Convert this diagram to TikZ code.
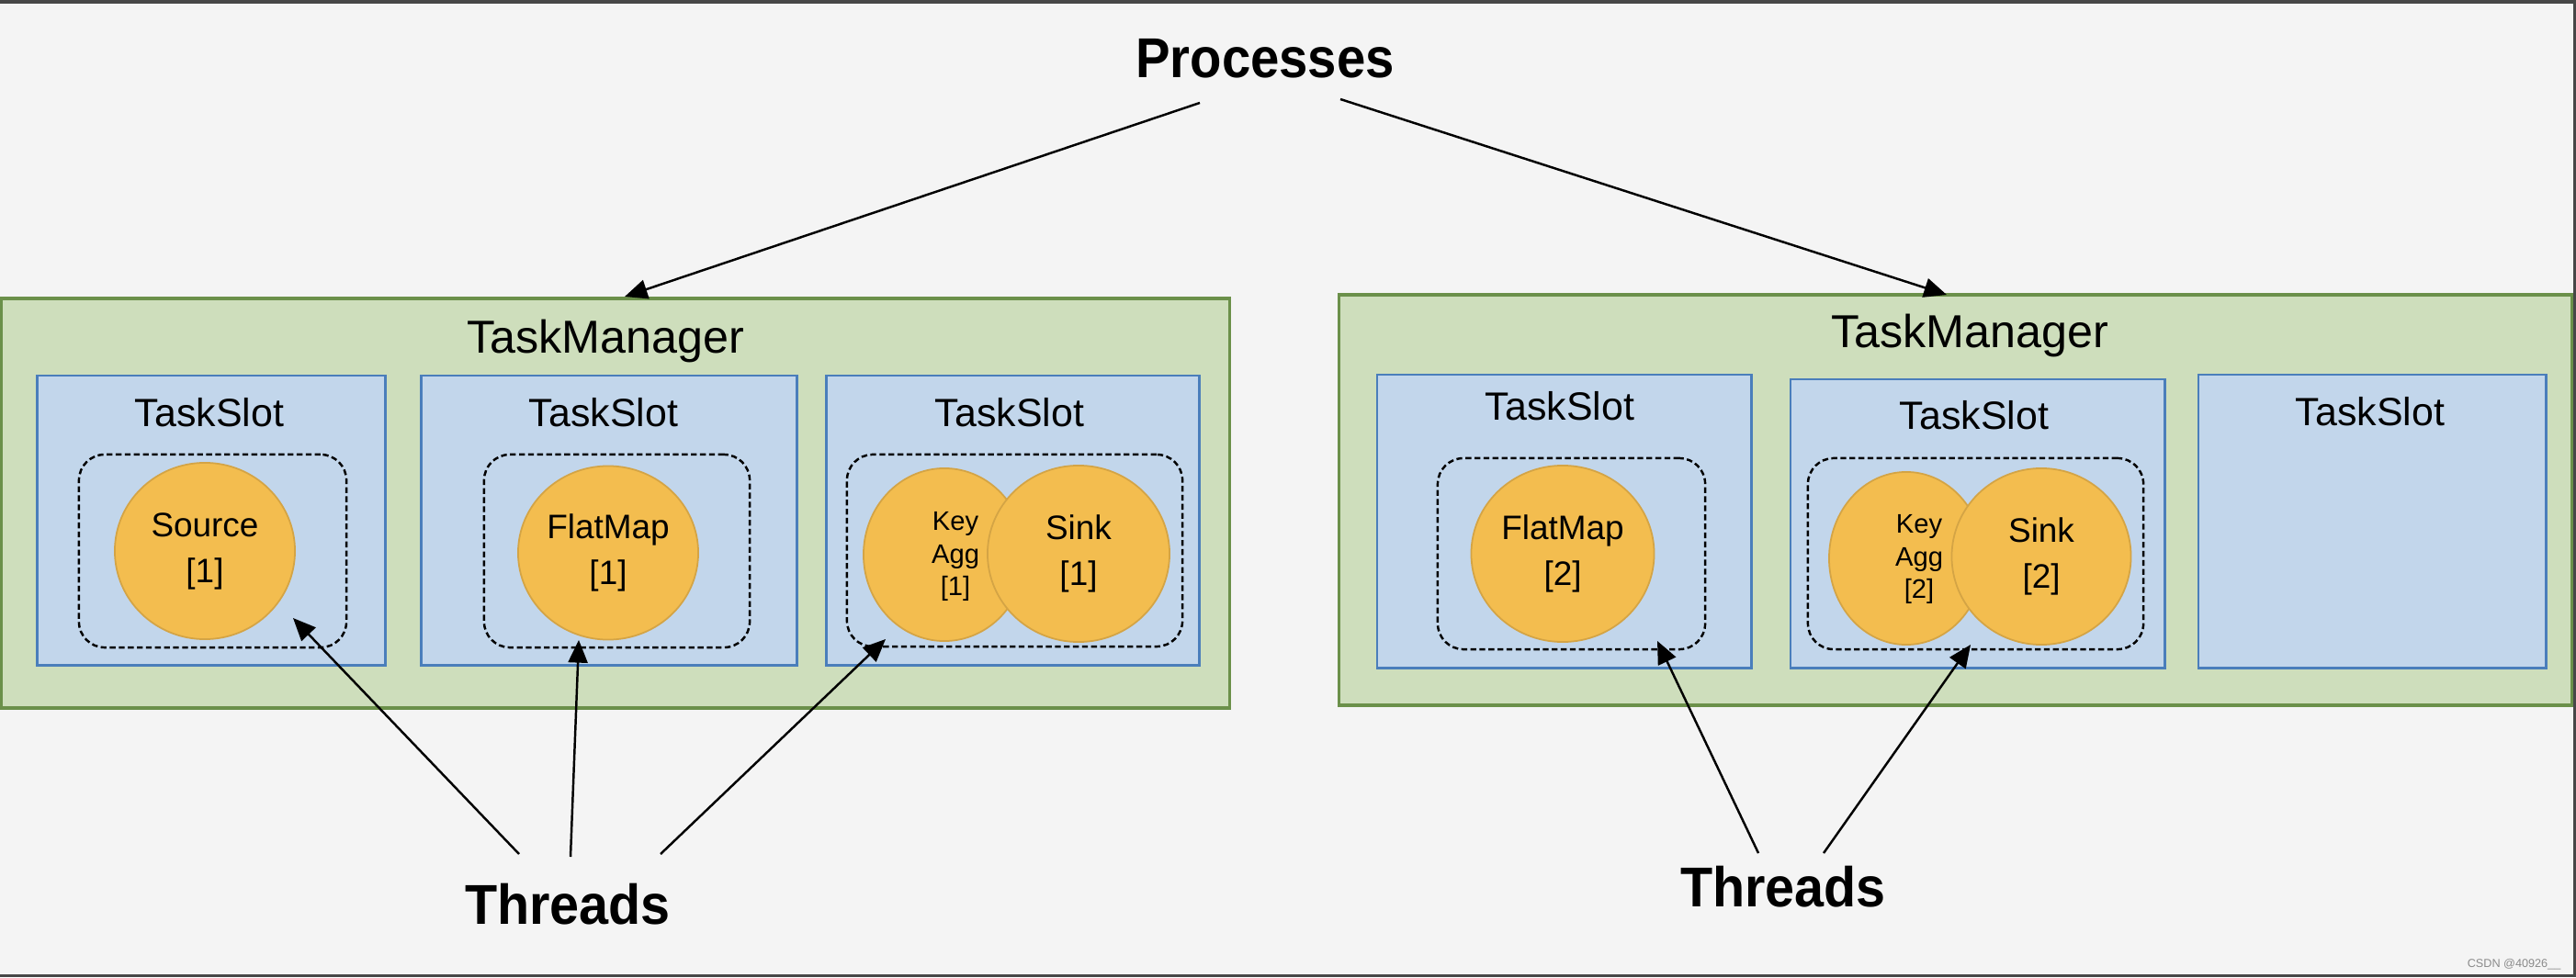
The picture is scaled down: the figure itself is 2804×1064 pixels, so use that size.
\documentclass[tikz,border=0pt]{standalone}
\usepackage{fontspec}
\usepackage{graphicx}
\setmainfont{Liberation Sans}
\usetikzlibrary{arrows.meta,shapes.geometric}
\definecolor{bgc}{HTML}{F4F4F4}
\definecolor{framec}{HTML}{474747}
\definecolor{tmfill}{HTML}{CEDEBC}
\definecolor{tmdraw}{HTML}{6B904A}
\definecolor{slotfill}{HTML}{C2D6EB}
\definecolor{slotdraw}{HTML}{4A7EBB}
\definecolor{opfill}{HTML}{F3BD4F}
\definecolor{opdraw}{HTML}{D4A445}
\definecolor{wmark}{HTML}{8A8A8A}
\begin{document}
\begin{tikzpicture}[x=0.01cm,y=-0.01cm,
 tmbox/.style={draw=tmdraw,fill=tmfill,line width=1pt,inner sep=0pt,outer sep=0pt},
 slotbox/.style={draw=slotdraw,fill=slotfill,line width=0.8pt,inner sep=0pt,outer sep=0pt},
 threadbox/.style={draw=black,dash pattern=on 1.8pt off 1pt,line width=0.7pt,rounded corners=8pt,inner sep=0pt},
 opnode/.style={ellipse,draw=opdraw,fill=opfill,line width=0.5pt,inner sep=0pt,align=center,font=\fontsize{10.5}{14.2}\selectfont},
 kagtext/.style={align=center,inner sep=0pt,font=\fontsize{8.3}{10.2}\selectfont},
 tmlabel/.style={anchor=base,inner sep=0pt,font=\fontsize{14.3}{17}\selectfont},
 slotlabel/.style={anchor=base,inner sep=0pt,font=\fontsize{12.2}{15}\selectfont},
 biglabel/.style={anchor=base,inner sep=0pt,font=\fontsize{17.4}{20}\selectfont\bfseries},
 arr/.style={-{Triangle[length=7pt,width=6pt]},line width=0.7pt,black}
]
% background and frame
\fill[bgc] (0,0) rectangle (2804,1064);
\fill[framec] (0,0) rectangle (2804,4);
\fill[framec] (0,1061) rectangle (2804,1064);
\fill[framec] (2801,0) rectangle (2804,1064);
\useasboundingbox (0,0) rectangle (2804,1064);

% task managers
\node[tmbox,minimum width=13.36cm,minimum height=4.46cm] (tm1) at (670,548) {};
\node[tmbox,minimum width=13.41cm,minimum height=4.47cm] (tm2) at (2128.5,544.5) {};

% task slots
\node[slotbox,minimum width=3.78cm,minimum height=3.15cm] (s1) at (230,566.5) {};
\node[slotbox,minimum width=4.08cm,minimum height=3.15cm] (s2) at (663,566.5) {};
\node[slotbox,minimum width=4.05cm,minimum height=3.15cm] (s3) at (1102.5,566.5) {};
\node[slotbox,minimum width=4.07cm,minimum height=3.19cm] (sa) at (1702.5,567.5) {};
\node[slotbox,minimum width=4.07cm,minimum height=3.14cm] (sb) at (2152.5,570) {};
\node[slotbox,minimum width=3.78cm,minimum height=3.19cm] (sc) at (2582,567.5) {};

% threads (dashed)
\node[threadbox,minimum width=2.91cm,minimum height=2.10cm] (d1) at (231.5,600) {};
\node[threadbox,minimum width=2.89cm,minimum height=2.10cm] (d2) at (671.5,600) {};
\node[threadbox,minimum width=3.65cm,minimum height=2.09cm] (d3) at (1104.5,599.5) {};
\node[threadbox,minimum width=2.91cm,minimum height=2.08cm] (da) at (1710.5,603) {};
\node[threadbox,minimum width=3.65cm,minimum height=2.08cm] (db) at (2150.5,603) {};

% operators
\node[opnode,minimum width=1.96cm,minimum height=1.92cm] (src) at (223,600) {Source\\{[1]}};
\node[opnode,minimum width=1.96cm,minimum height=1.89cm] (fm1) at (662,602) {FlatMap\\{[1]}};
\node[opnode,minimum width=1.76cm,minimum height=1.88cm] (ka1) at (1028,604) {};
\node[opnode,minimum width=1.98cm,minimum height=1.92cm] (sk1) at (1174,603) {Sink\\{[1]}};
\node[opnode,minimum width=1.99cm,minimum height=1.92cm] (fm2) at (1701,603) {FlatMap\\{[2]}};
\node[opnode,minimum width=1.68cm,minimum height=1.88cm] (ka2) at (2075,608) {};
\node[opnode,minimum width=1.95cm,minimum height=1.92cm] (sk2) at (2222,606) {Sink\\{[2]}};
\node[kagtext] (ka1t) at (1040,606) {Key\\Agg\\{[1]}};
\node[kagtext] (ka2t) at (2089,609) {Key\\Agg\\{[2]}};

% labels
\node[tmlabel] (tml1) at (659,385) {TaskManager};
\node[tmlabel] (tml2) at (2144,379) {TaskManager};
\node[slotlabel] (sl1) at (228,464) {TaskSlot};
\node[slotlabel] (sl2) at (657,464) {TaskSlot};
\node[slotlabel] (sl3) at (1099,464) {TaskSlot};
\node[slotlabel] (sla) at (1698,457) {TaskSlot};
\node[slotlabel] (slb) at (2149,467) {TaskSlot};
\node[slotlabel] (slc) at (2580,463) {TaskSlot};
\node[biglabel] (proc) at (1377,85) {\scalebox{0.92}[1]{Processes}};
\node[biglabel] (thl) at (618,1006) {\scalebox{0.94}[1]{Threads}};
\node[biglabel] (thr) at (1941,987) {\scalebox{0.94}[1]{Threads}};
\node[anchor=base east,inner sep=0pt,text=wmark,font=\fontsize{3.6}{4}\selectfont] (wm) at (2788,1053) {CSDN @40926\_\_};

% connector end points
\coordinate (pl) at (1306,112);
\coordinate (pr) at (1459,108);
\coordinate (tipl) at (680,323);
\coordinate (tipr) at (2119,321);
\coordinate (l1a) at (565,930);
\coordinate (l2a) at (621,933);
\coordinate (l3a) at (719,930);
\coordinate (r1a) at (1914,929);
\coordinate (r2a) at (1985,929);
\coordinate (l1b) at (319,673);
\coordinate (l2b) at (630,697);
\coordinate (l3b) at (964,696);
\coordinate (r1b) at (1804,698);
\coordinate (r2b) at (2145,702);

% arrows
\draw[arr] (pl) -- (tipl);
\draw[arr] (pr) -- (tipr);
\draw[arr] (l1a) -- (l1b);
\draw[arr] (l2a) -- (l2b);
\draw[arr] (l3a) -- (l3b);
\draw[arr] (r1a) -- (r1b);
\draw[arr] (r2a) -- (r2b);
\end{tikzpicture}
\end{document}
